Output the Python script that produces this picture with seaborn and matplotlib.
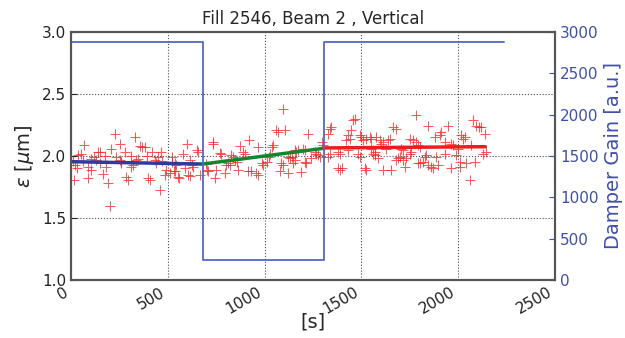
import numpy as np
import pandas as pd
import matplotlib
matplotlib.use("Agg")
import matplotlib.pyplot as plt
import seaborn as sns

# Emittance measurements: time [s] and emittance [um]
time_s = [
    67, 225, 328, 251, 355, 368, 380, 208, 139, 150, 277, 420, 466, 50, 36, 234,
    103, 129, 150, 251, 260, 346, 337, 435, 440, 19, 33, 88, 105, 182, 260, 311,
    320, 492, 509, 535, 15, 88, 165, 285, 294, 397, 406, 191, 458, 200, 483, 542,
    10, 60, 120, 175, 310, 390, 450, 470, 520,
    597, 731, 734, 649, 657, 576, 769, 777, 872, 918, 967, 889, 898, 829, 837,
    1027, 1023, 520, 537, 614, 623, 631, 588, 605, 614, 531, 554, 559, 666, 697,
    703, 708, 748, 743, 795, 803, 812, 820, 863, 915, 932, 846, 855, 958, 967,
    984, 992, 1010,
    1096, 1061, 1070, 1104, 1225, 1044, 1036, 1156, 1164, 1173, 1199, 1207, 1259,
    1268, 1276, 1285, 1294, 1302, 1121, 1130, 1139, 1087, 1096, 1147, 1156, 1207,
    1216, 1242, 1078, 1121, 1190, 1328, 1336, 1336, 1345, 1328, 1380, 1388, 1380,
    1388, 1402, 1422, 1440, 1431, 1448, 1465, 1457, 1491, 1500, 1508, 1482, 1491,
    1526, 1543, 1551, 1577, 1560, 1569, 1517, 1526, 1431,
    1780, 1663, 1680, 1844, 1947, 1913, 1904, 1878, 1594, 1611, 1603, 1637, 1646,
    1749, 1766, 1784, 1792, 1801, 1930, 1964, 1973, 1551, 1569, 1586, 1629, 1706,
    1715, 1698, 1715, 1732, 1749, 1758, 1827, 1835, 1887, 1930, 1990, 1999, 1792,
    1801, 1818, 1844, 1861, 1870, 1895, 1723, 1611, 1654, 1964, 2007, 1680, 1689,
    2076, 2093, 2110, 2119, 2136, 2016, 2033, 2024, 2067, 2128, 2145, 2007, 2042,
    2085, 2059,
]
emittance = [
    2.09, 2.175, 2.155, 2.10, 2.08, 2.075, 2.07, 2.06, 2.035, 2.035, 2.035, 2.03,
    2.03, 2.02, 2.01, 1.995, 1.975, 1.97, 1.94, 1.97, 1.955, 1.975, 1.97, 1.97,
    1.94, 1.93, 1.90, 1.915, 1.89, 1.915, 1.94, 1.915, 1.93, 1.89, 1.86, 1.875,
    1.81, 1.82, 1.855, 1.83, 1.81, 1.82, 1.81, 1.78, 1.725, 1.60, 1.85, 1.93,
    1.96, 1.96, 1.99, 2.00, 2.00, 2.00, 1.99, 1.96, 1.99,
    2.095, 2.10, 2.115, 2.05, 2.035, 2.02, 2.025, 2.015, 2.08, 2.13, 2.07, 2.035,
    2.02, 2.01, 1.995, 2.02, 1.995, 1.955, 1.94, 1.97, 1.93, 1.915, 1.90, 1.85,
    1.84, 1.875, 1.83, 1.82, 1.85, 1.935, 1.89, 1.875, 1.89, 1.82, 1.86, 1.93,
    1.94, 1.93, 1.89, 1.88, 1.875, 1.97, 1.955, 1.86, 1.85, 1.94, 1.93, 1.955,
    2.38, 2.21, 2.195, 2.21, 2.18, 2.09, 2.075, 2.05, 2.035, 2.05, 2.06, 2.05,
    2.035, 2.02, 2.01, 1.995, 2.115, 2.09, 1.995, 1.98, 1.995, 1.94, 1.93, 1.94,
    1.97, 1.955, 1.94, 1.98, 1.875, 1.86, 1.87, 1.995, 2.02, 2.22, 2.235, 2.18,
    2.035, 2.02, 1.90, 1.89, 1.90, 2.13, 2.14, 2.17, 2.21, 2.30, 2.29, 2.17,
    2.155, 2.13, 2.02, 1.995, 2.14, 2.155, 2.14, 2.155, 2.02, 2.035, 1.90, 1.89,
    2.05,
    2.33, 2.235, 2.22, 2.24, 2.24, 2.195, 2.17, 2.155, 2.13, 2.115, 2.10, 2.13,
    2.14, 2.14, 2.13, 2.115, 2.09, 2.075, 2.115, 2.10, 2.09, 2.06, 2.01, 1.98,
    2.06, 2.06, 2.05, 1.995, 1.97, 1.98, 2.02, 2.035, 1.995, 2.01, 1.995, 2.02,
    2.01, 2.06, 1.94, 1.94, 1.955, 1.93, 1.915, 1.90, 1.93, 1.915, 1.89, 1.89,
    1.90, 1.915, 1.97, 1.98,
    2.29, 2.245, 2.23, 2.235, 2.175, 2.17, 2.155, 2.14, 2.09, 2.015, 2.03, 1.955,
    1.94, 1.955, 1.81,
]

# Linear fits for the three damper-gain periods (start/end of each segment)
fit_low_t = [0, 681]
fit_low_e = [1.954, 1.935]
fit_mid_t = [681, 1305]
fit_mid_e = [1.935, 2.062]
fit_high_t = [1305, 2140]
fit_high_e = [2.065, 2.075]

# Damper gain settings (step changes)
gain_t = [0, 681, 1305, 2234]
gain_val = [2880, 240, 2880, 2880]

gain_color = "#3f4fa8"

sns.set_style("white")
plt.rcParams.update({
    "xtick.direction": "in",
    "ytick.direction": "in",
    "font.family": ["DejaVu Sans"],
})

fig, ax = plt.subplots(figsize=(6.25, 3.38), dpi=100)
fig.subplots_adjust(left=0.1136, right=0.888, top=0.905, bottom=0.172)

scatter_df = pd.DataFrame({"t": time_s, "eps": emittance})
sns.scatterplot(data=scatter_df, x="t", y="eps", marker="+", color="#ff2020",
                s=42, linewidth=0.75, alpha=0.75, ax=ax, zorder=2)

sns.lineplot(x=fit_low_t, y=fit_low_e, color="#2c3c9c", lw=2.5, ax=ax, zorder=3)
sns.lineplot(x=fit_mid_t, y=fit_mid_e, color="#14852e", lw=2.5, ax=ax, zorder=3)
sns.lineplot(x=fit_high_t, y=fit_high_e, color="#ee1c1c", lw=2.5, ax=ax, zorder=3)

ax.set_xlim(0, 2500)
ax.set_ylim(1.0, 3.0)
ax.set_xticks([0, 500, 1000, 1500, 2000, 2500])
ax.set_yticks([1.0, 1.5, 2.0, 2.5, 3.0])
ax.set_yticklabels(["1.0", "1.5", "2.0", "2.5", "3.0"])
ax.grid(True, color="black", linestyle=":", linewidth=0.8, alpha=0.7)
for lab in ax.get_xticklabels():
    lab.set_rotation(30)
    lab.set_ha("right")
ax.tick_params(axis="both", labelsize=11, length=4, colors="#222222")
ax.set_xlabel("[s]", fontsize=14, labelpad=-3)
ax.set_ylabel(r"$\epsilon$ [$\mu$m]", fontsize=14)
ax.set_title("Fill 2546, Beam 2 , Vertical", fontsize=12)

ax2 = ax.twinx()
sns.lineplot(x=gain_t, y=gain_val, color="#5566c4", lw=1.3,
             drawstyle="steps-post", ax=ax2)
ax2.set_ylim(0, 3000)
ax2.set_yticks([0, 500, 1000, 1500, 2000, 2500, 3000])
ax2.tick_params(axis="y", labelsize=11, length=4, colors=gain_color)
ax2.set_ylabel("Damper Gain [a.u.]", fontsize=14, color=gain_color)

for a in (ax, ax2):
    for sp in a.spines.values():
        sp.set_color("#555555")
        sp.set_linewidth(1.5)
        sp.set_visible(True)

fig.savefig("out.png", dpi=100)
